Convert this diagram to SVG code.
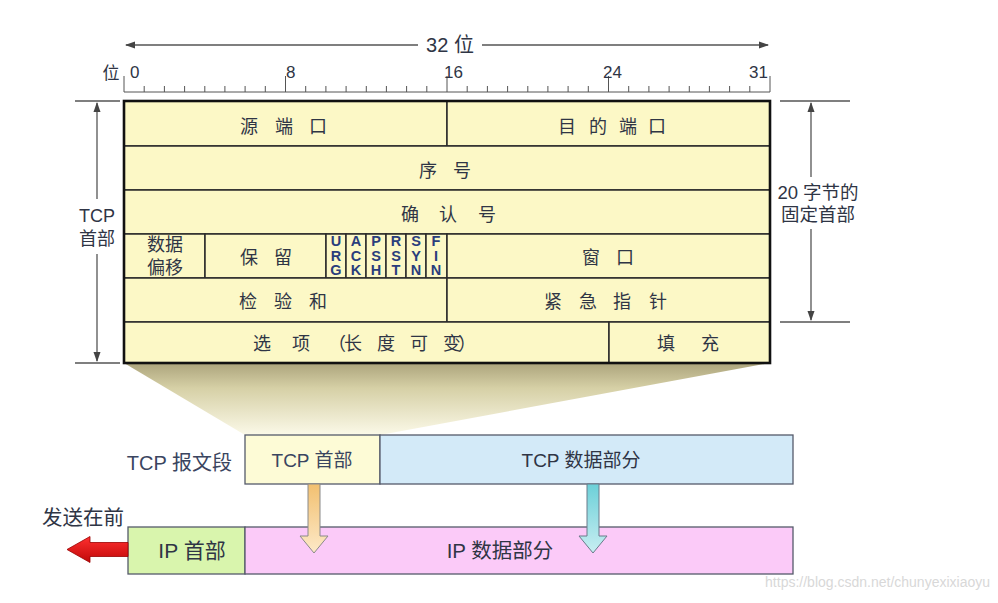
<svg xmlns="http://www.w3.org/2000/svg" width="998" height="603" viewBox="0 0 998 603">
<style>
text{font-family:"Liberation Sans","Noto Sans CJK SC",sans-serif;fill:#2f3545}
.lbl{font-size:18px;text-anchor:middle}
.big{font-size:20px;text-anchor:middle}
.flag{font-size:14.5px;font-weight:bold;text-anchor:middle;fill:#2a3d7c}
.cell{fill:#fcf8c6;stroke:#2a2a2a;stroke-width:1.5}
.dim{stroke:#555;stroke-width:1.3;fill:none}
.tick{stroke:#555;stroke-width:1}
.box{stroke:#555a6a;stroke-width:1.3}
</style>
<defs>
<marker id="ah" viewBox="0 0 10 10" refX="9" refY="5" markerWidth="8" markerHeight="8" orient="auto-start-reverse">
<path d="M0,1.5 L10,5 L0,8.5 Z" fill="#444"/>
</marker>
<linearGradient id="trap" x1="0" y1="0" x2="0" y2="1">
<stop offset="0" stop-color="#aca47c"/>
<stop offset="0.35" stop-color="#d6d0a6"/>
<stop offset="1" stop-color="#fbf9e8"/>
</linearGradient>
<linearGradient id="org" x1="0" y1="0" x2="0" y2="1">
<stop offset="0" stop-color="#f2c070"/>
<stop offset="1" stop-color="#fde9c8"/>
</linearGradient>
<linearGradient id="cyn" x1="0" y1="0" x2="0" y2="1">
<stop offset="0" stop-color="#6cd0d8"/>
<stop offset="1" stop-color="#c8eef2"/>
</linearGradient>
<linearGradient id="red" x1="0" y1="0" x2="0" y2="1">
<stop offset="0" stop-color="#ff3030"/>
<stop offset="1" stop-color="#c00808"/>
</linearGradient>
</defs>

<!-- 32 bit arrow -->
<g id="width-dim">
<line class="dim" x1="418" y1="45" x2="126" y2="45" marker-end="url(#ah)"/>
<line class="dim" x1="482" y1="45" x2="768" y2="45" marker-end="url(#ah)"/>
<text class="big" x="450" y="52">32 位</text>
</g>

<!-- ruler -->
<g id="ruler">
<text x="111" y="79" style="font-size:17px;text-anchor:middle">位</text>
<line class="tick" x1="124" y1="92" x2="770" y2="92"/>
<path class="tick" d="M144.2,86V92M164.4,86V92M184.6,86V92M204.8,86V92M224.9,86V92M245.1,86V92M265.3,86V92M305.7,86V92M325.9,86V92M346.1,86V92M366.3,86V92M386.4,86V92M406.6,86V92M426.8,86V92M467.2,86V92M487.4,86V92M507.6,86V92M527.8,86V92M547.9,86V92M568.1,86V92M588.3,86V92M628.7,86V92M648.9,86V92M669.1,86V92M689.3,86V92M709.4,86V92M729.6,86V92M749.8,86V92"/>
<path class="tick" d="M124,76V92M285.5,76V92M447,76V92M608.5,76V92M770,76V92"/>
<text x="130" y="78" style="font-size:17px">0</text>
<text x="286" y="78" style="font-size:17px">8</text>
<text x="444" y="78" style="font-size:17px">16</text>
<text x="603" y="78" style="font-size:17px">24</text>
<text x="768" y="78" style="font-size:17px;text-anchor:end">31</text>
</g>

<!-- trapezoid shade -->
<g id="shade">
<polygon points="124,363 770,363 380,435 245,435" fill="url(#trap)"/>
</g>

<!-- header rows -->
<g id="src-port"><rect class="cell" x="124" y="101" width="323" height="45"/><text class="lbl" x="249 284 318" y="133">源端口</text></g>
<g id="dst-port"><rect class="cell" x="447" y="101" width="323" height="45"/><text class="lbl" x="567 598 628 657" y="133">目的端口</text></g>
<g id="seq"><rect class="cell" x="124" y="146" width="646" height="44"/><text class="lbl" x="428 462" y="176.5">序号</text></g>
<g id="ack"><rect class="cell" x="124" y="190" width="646" height="44"/><text class="lbl" x="410 448 487" y="220.5">确认号</text></g>
<g id="offset"><rect class="cell" x="124" y="234" width="81" height="44"/><text class="lbl" x="165" y="251">数据</text><text class="lbl" x="165" y="274">偏移</text></g>
<g id="reserved"><rect class="cell" x="205" y="234" width="121" height="44"/><text class="lbl" x="249 283" y="263.5">保留</text></g>
<g id="flags">
<rect class="cell" x="326" y="234" width="20" height="44"/>
<rect class="cell" x="346" y="234" width="20" height="44"/>
<rect class="cell" x="366" y="234" width="20" height="44"/>
<rect class="cell" x="386" y="234" width="20" height="44"/>
<rect class="cell" x="406" y="234" width="20" height="44"/>
<rect class="cell" x="426" y="234" width="21" height="44"/>
<text class="flag" x="336" y="246">U</text><text class="flag" x="336" y="260.5">R</text><text class="flag" x="336" y="275">G</text>
<text class="flag" x="356" y="246">A</text><text class="flag" x="356" y="260.5">C</text><text class="flag" x="356" y="275">K</text>
<text class="flag" x="376" y="246">P</text><text class="flag" x="376" y="260.5">S</text><text class="flag" x="376" y="275">H</text>
<text class="flag" x="396" y="246">R</text><text class="flag" x="396" y="260.5">S</text><text class="flag" x="396" y="275">T</text>
<text class="flag" x="416" y="246">S</text><text class="flag" x="416" y="260.5">Y</text><text class="flag" x="416" y="275">N</text>
<text class="flag" x="436" y="246">F</text><text class="flag" x="436" y="260.5">I</text><text class="flag" x="436" y="275">N</text>
<line x1="351" y1="283" x2="370" y2="283" stroke="#d8401c" stroke-width="1.6"/>
<line x1="412" y1="281" x2="444" y2="281" stroke="#d8401c" stroke-width="1.6"/>
</g>
<g id="window"><rect class="cell" x="447" y="234" width="323" height="44"/><text class="lbl" x="591 625" y="263.5">窗口</text></g>
<g id="checksum"><rect class="cell" x="124" y="278" width="323" height="44"/><text class="lbl" x="248 283 318" y="308">检验和</text></g>
<g id="urgent"><rect class="cell" x="447" y="278" width="323" height="44"/><text class="lbl" x="553 588 622 658" y="308">紧急指针</text></g>
<g id="options"><rect class="cell" x="124" y="322" width="485" height="41"/><text class="lbl" x="262 301 337 353 386 419 452 467" y="350">选项（长度可变）</text></g>
<g id="padding"><rect class="cell" x="609" y="322" width="161" height="41"/><text class="lbl" x="666 710" y="350">填充</text></g>
<rect x="124" y="101" width="646" height="262" fill="none" stroke="#111" stroke-width="2.6"/>

<!-- left dimension -->
<g id="tcp-header-dim">
<line class="dim" x1="75" y1="101" x2="120" y2="101"/>
<line class="dim" x1="75" y1="363" x2="120" y2="363"/>
<line class="dim" x1="97" y1="199" x2="97" y2="103" marker-end="url(#ah)"/>
<line class="dim" x1="97" y1="254" x2="97" y2="361" marker-end="url(#ah)"/>
<text class="lbl" x="97" y="221.5">TCP</text>
<text class="lbl" x="97" y="245">首部</text>
</g>

<!-- right dimension -->
<g id="fixed-dim">
<line class="dim" x1="780" y1="101" x2="850" y2="101"/>
<line class="dim" x1="780" y1="322" x2="850" y2="322"/>
<line class="dim" x1="811" y1="177" x2="811" y2="103" marker-end="url(#ah)"/>
<line class="dim" x1="811" y1="229" x2="811" y2="320" marker-end="url(#ah)"/>
<text x="818" y="199" style="font-size:18.5px;text-anchor:middle">20 字节的</text>
<text x="818" y="221" style="font-size:18.5px;text-anchor:middle">固定首部</text>
</g>

<!-- TCP segment -->
<g id="tcp-segment-label"><text x="232" y="470" style="font-size:20px;text-anchor:end;fill:#3a4560">TCP 报文段</text></g>
<g id="tcp-hdr"><rect class="box" x="245" y="435" width="135" height="49" fill="#fdfbd6"/><text x="312" y="467" style="font-size:19px;text-anchor:middle;fill:#3a4560">TCP 首部</text></g>
<g id="tcp-data"><rect class="box" x="380" y="435" width="413" height="49" fill="#d3eaf8"/><text x="581" y="467" style="font-size:19px;text-anchor:middle">TCP 数据部分</text></g>

<!-- IP datagram -->
<g id="send-first"><text x="83" y="525" style="font-size:20.5px;text-anchor:middle">发送在前</text></g>
<g id="ip-hdr"><rect class="box" x="128" y="527" width="117" height="47" fill="#d9f5ad"/><text x="192" y="558" style="font-size:21px;text-anchor:middle">IP 首部</text></g>
<g id="ip-data"><rect class="box" x="245" y="527" width="548" height="47" fill="#fbcaf8"/><text x="500" y="558" style="font-size:20.5px;text-anchor:middle">IP 数据部分</text></g>

<!-- connectors -->
<g id="connectors">
<path d="M308,484 H320 V536 H328 L314,553 L300,536 H308 Z" fill="url(#org)" stroke="#8a8a8a" stroke-width="1"/>
<path d="M587,484 H599 V536 H607 L593,553 L579,536 H587 Z" fill="url(#cyn)" stroke="#6a7a8a" stroke-width="1"/>
<path d="M128,542.5 H90 V536.5 L67,549.5 L90,562.5 V556.5 H128 Z" fill="url(#red)" stroke="#900" stroke-width="0.8"/>
</g>

<text x="990" y="587" style="font-size:14px;text-anchor:end;fill:#d8d8d8">https://blog.csdn.net/chunyexixiaoyu</text>
</svg>
